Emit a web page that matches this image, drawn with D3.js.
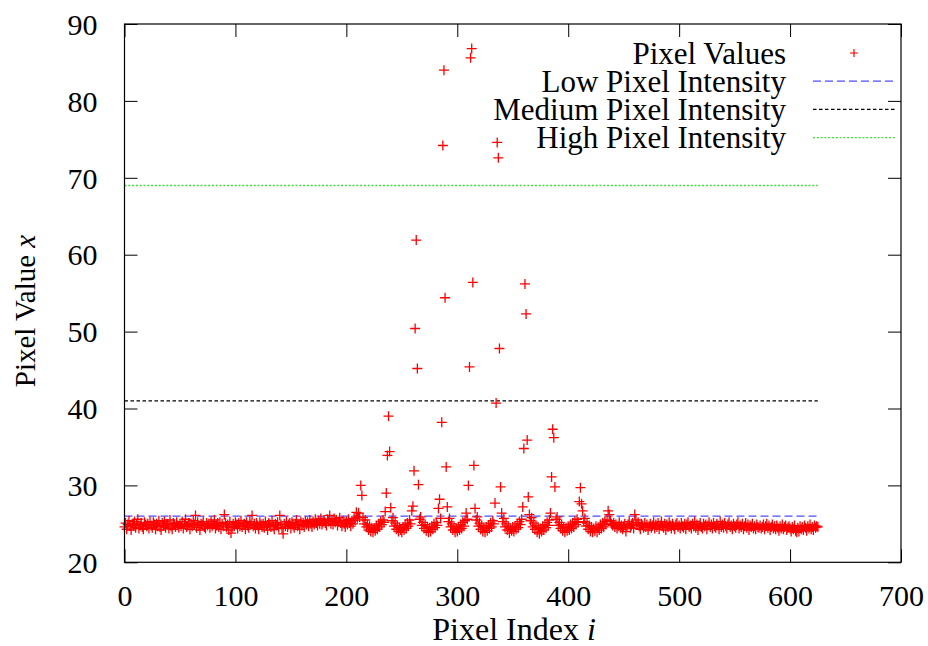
<!DOCTYPE html>
<html>
<head>
<meta charset="utf-8">
<script src="https://cdn.jsdelivr.net/npm/d3@7"></script>
<style>
  body { margin: 0; background: #fff; }
  text { font-family: 'Liberation Serif', 'Times New Roman', serif; fill: #000; }
</style>
</head>
<body>
<div id="chart"></div>
<script>
// pixel value for each index i (0..625)
const pixelValues = [
  24.6, 25.1, 24.3, 24.9, 25.4, 24.7, 24.2, 25.0, 24.8, 25.3, 24.5, 24.9, 25.6, 24.4, 24.8, 25.1, 24.6, 24.3, 25.2, 24.9, 24.7, 25.0, 24.4, 25.3, 24.8,
  24.5, 25.2, 24.9, 24.3, 25.0, 24.7, 25.4, 24.6, 24.2, 25.1, 24.8, 25.3, 24.5, 24.9, 25.0, 24.4, 25.5, 24.7, 24.3, 25.1, 24.9, 24.6, 25.2, 24.8, 24.5,
  25.0, 24.7, 25.3, 24.4, 24.9, 25.6, 24.6, 24.8, 25.1, 24.3, 25.0, 24.7, 25.4, 24.9, 26.1, 24.5, 25.2, 24.8, 24.2, 25.0, 24.9, 25.3, 24.6, 24.4, 25.1,
  24.8, 25.0, 24.5, 25.3, 24.7, 24.9, 25.5, 24.4, 24.8, 25.1, 24.6, 25.2, 24.3, 25.0, 24.7, 26.2, 25.1, 24.6, 24.9, 24.2, 25.3, 23.8, 24.5, 25.0, 24.7,
  25.2, 24.9, 24.4, 25.1, 24.7, 25.4, 24.6, 24.9, 25.0, 24.3, 25.2, 24.8, 24.5, 25.3, 24.9, 26.1, 24.7, 25.0, 24.4, 25.1, 24.8, 24.3, 25.2, 24.9, 24.6,
  25.0, 24.5, 25.3, 24.8, 24.2, 25.1, 24.9, 24.6, 25.4, 24.7, 24.3, 25.0, 24.8, 25.2, 24.5, 26.1, 24.9, 24.4, 23.7, 25.0, 24.7, 25.3, 24.6, 24.9, 25.1,
  24.4, 25.2, 24.8, 24.5, 25.0, 25.5, 24.7, 24.9, 24.3, 25.3, 24.8, 25.1, 24.6, 25.4, 24.9, 25.2, 24.7, 25.5, 25.0, 24.6, 25.3, 24.9, 25.6, 25.1, 24.8,
  25.4, 25.0, 25.7, 24.9, 25.2, 25.5, 25.1, 24.8, 25.6, 25.3, 26.1, 25.0, 25.4, 24.9, 25.7, 25.2, 25.5, 24.8, 25.3, 25.8, 25.1, 24.7, 25.4, 25.0, 24.6,
  25.3, 24.9, 25.6, 25.1, 24.7, 25.4, 25.0, 25.7, 25.5, 26.5, 25.8, 26.4, 25.9, 30.0, 28.7, 25.8, 25.0, 25.5, 24.6, 24.9, 24.2, 24.7, 24.0, 24.5, 23.9,
  24.4, 24.1, 24.8, 24.3, 25.0, 24.6, 25.3, 24.9, 25.5, 25.2, 26.6, 29.0, 33.9, 39.0, 34.4, 27.1, 25.4, 25.8, 24.7, 25.1, 24.3, 24.8, 24.0, 24.5, 24.2,
  23.9, 24.6, 24.2, 24.9, 24.4, 25.1, 24.7, 25.5, 25.0, 26.7, 27.3, 31.9, 50.4, 61.9, 45.2, 30.1, 25.6, 25.9, 24.8, 25.2, 24.4, 24.9, 24.1, 24.6, 23.9,
  24.5, 24.0, 24.7, 24.3, 25.0, 24.5, 25.2, 24.8, 27.0, 28.2, 25.7, 38.2, 74.2, 84.0, 54.4, 32.4, 27.2, 25.3, 25.7, 24.6, 25.0, 24.2, 24.7, 23.9, 24.4,
  24.0, 24.6, 24.2, 24.9, 24.4, 25.2, 24.7, 25.4, 26.4, 25.6, 30.0, 45.4, 85.6, 86.8, 56.4, 32.6, 27.0, 25.5, 25.9, 24.7, 25.1, 24.3, 24.8, 24.0, 24.5,
  23.9, 24.6, 24.1, 24.8, 24.4, 25.1, 24.6, 25.4, 25.0, 27.7, 40.7, 74.6, 72.6, 47.8, 29.8, 26.4, 25.3, 25.7, 24.6, 25.0, 24.2, 24.7, 23.8, 24.4, 24.1,
  24.6, 24.0, 24.7, 24.3, 25.0, 24.5, 25.3, 24.9, 25.6, 27.2, 34.8, 56.2, 52.3, 35.9, 28.5, 26.2, 25.4, 25.8, 24.6, 25.1, 24.3, 24.8, 23.9, 24.5, 23.7,
  24.4, 24.0, 24.7, 24.2, 24.9, 24.5, 25.2, 24.8, 25.5, 26.4, 31.1, 37.3, 36.2, 29.8, 25.6, 25.9, 24.8, 25.2, 24.4, 24.9, 24.1, 24.6, 23.9, 24.5, 24.1,
  24.7, 24.2, 24.9, 24.4, 25.1, 24.6, 25.3, 24.9, 25.6, 25.2, 27.9, 29.7, 27.6, 26.7, 25.3, 25.7, 24.7, 25.1, 24.3, 24.8, 24.0, 24.6, 23.9, 24.4, 24.1,
  24.7, 23.9, 24.5, 24.2, 24.9, 24.4, 25.1, 24.6, 25.3, 24.9, 25.5, 26.7, 26.2, 25.4, 25.0, 24.8, 25.1, 24.6, 24.9, 24.4, 24.7, 25.2, 24.5, 24.8, 24.3,
  24.7, 25.0, 24.0, 24.6, 24.9, 25.3, 24.5, 24.8, 25.1, 24.4, 26.2, 25.5, 24.9, 25.2, 24.7, 24.3, 25.0, 24.8, 24.5, 25.1, 24.6, 24.9, 24.2, 24.7, 25.0,
  24.5, 24.8, 25.2, 24.4, 24.9, 24.6, 25.1, 24.3, 24.8, 25.3, 24.7, 24.5, 25.0, 24.2, 24.9, 24.6, 25.2, 24.8, 24.4, 25.0, 24.7, 24.3, 24.9, 25.1, 24.6,
  24.8, 24.4, 25.1, 24.7, 24.5, 25.0, 24.3, 24.9, 25.2, 24.6, 24.8, 24.4, 25.0, 24.7, 25.3, 24.5, 24.9, 24.2, 24.8, 25.1, 24.6, 24.4, 25.0, 24.7, 24.9,
  24.3, 24.8, 25.2, 24.6, 24.9, 24.4, 25.1, 24.7, 24.5, 25.0, 24.8, 24.3, 25.3, 24.6, 24.9, 24.5, 25.1, 24.7, 24.4, 24.9, 25.2, 24.6, 24.8, 24.3, 25.0,
  24.7, 24.5, 24.9, 25.2, 24.4, 24.8, 24.6, 25.0, 24.3, 24.7, 25.1, 24.5, 24.9, 24.2, 24.8, 24.6, 25.0, 24.4, 24.7, 24.3, 24.9, 24.6, 24.5, 24.8, 24.4,
  24.6, 24.9, 24.3, 24.7, 25.0, 24.5, 24.8, 24.2, 24.6, 24.9, 24.4, 24.7, 24.3, 24.8, 24.5, 24.1, 24.7, 24.4, 24.9, 24.3, 24.6, 24.8, 24.2, 24.5, 24.7,
  24.4, 24.0, 24.6, 24.3, 24.8, 24.1, 23.9, 24.5, 24.0, 24.7, 24.3, 24.6, 24.2, 24.8, 24.5, 24.1, 24.7, 24.4, 24.9, 24.3, 24.6, 24.2, 24.8, 24.5, 24.7,
  24.6
]

const thresholdNames = ['Low Pixel Intensity', 'Medium Pixel Intensity', 'High Pixel Intensity']
const thresholdValues = [26, 41, 69]
const thresholdColors = ['#4d4dff', '#000000', '#3ddc3d']
const thresholdDashes = ['8,4', '3.5,2.5', '2,1.8']

const xTicks = [0, 100, 200, 300, 400, 500, 600, 700]
const yTicks = [20, 30, 40, 50, 60, 70, 80, 90]

const width = 928
const height = 646
const tickFont = 30
const legendFont = 31
const tickLen = 13

const svg = d3.select('#chart').append('svg')
  .attr('width', width)
  .attr('height', height)

const x = d3.scaleLinear().domain([0, 700]).range([124.5, 901])
const y = d3.scaleLinear().domain([20, 90]).range([562.3, 24])

const plot = svg.append('g')

// threshold lines over the data range
plot.selectAll('line.threshold')
  .data(thresholdValues)
  .enter()
  .append('line')
  .attr('class', 'threshold')
  .attr('x1', x(0))
  .attr('x2', x(pixelValues.length - 1))
  .attr('y1', d => y(d))
  .attr('y2', d => y(d))
  .style('stroke', (d, i) => thresholdColors[i])
  .style('stroke-width', 1.3)
  .style('stroke-dasharray', (d, i) => thresholdDashes[i])

const cross = 'M-5,0H5M0,-5V5'

plot.selectAll('path.pt')
  .data(pixelValues)
  .enter()
  .append('path')
  .attr('class', 'pt')
  .attr('d', cross)
  .attr('transform', (d, i) => `translate(${x(i)},${y(d)})`)
  .style('stroke', '#ff0000')
  .style('stroke-width', 1.3)
  .style('fill', 'none')

// axes, ticks pointing inward on all four sides
const styleAxis = (g) => {
  g.selectAll('path.domain').remove()
  g.selectAll('line').style('stroke', '#000').style('stroke-width', 1)
  g.selectAll('text')
    .style('font-size', tickFont + 'px')
    .style('font-family', "'Liberation Serif', serif")
}

svg.append('g')
  .attr('transform', `translate(0,${y(20)})`)
  .call(d3.axisBottom(x).tickValues(xTicks).tickSize(-tickLen).tickPadding(22).tickFormat(d3.format('d')))
  .call(styleAxis)

svg.append('g')
  .attr('transform', `translate(0,${y(90)})`)
  .call(d3.axisTop(x).tickValues(xTicks).tickSize(-tickLen).tickFormat(''))
  .call(styleAxis)

svg.append('g')
  .attr('transform', `translate(${x(0)},0)`)
  .call(d3.axisLeft(y).tickValues(yTicks).tickSize(-tickLen).tickFormat(d3.format('d')))
  .call(styleAxis)
  .call(g => g.selectAll('text')
    .attr('x', -27)
    .attr('dy', '0.34em'))

svg.append('g')
  .attr('transform', `translate(${x(700)},0)`)
  .call(d3.axisRight(y).tickValues(yTicks).tickSize(-tickLen).tickFormat(''))
  .call(styleAxis)

svg.append('rect')
  .attr('x', x(0))
  .attr('y', y(90))
  .attr('width', x(700) - x(0))
  .attr('height', y(20) - y(90))
  .style('fill', 'none')
  .style('stroke', '#000')
  .style('stroke-width', 1.2)

// axis titles
const xTitle = svg.append('text')
  .attr('transform', 'translate(514,640)')
  .attr('text-anchor', 'middle')
  .style('font-size', '32px')
xTitle.append('tspan').text('Pixel Index ')
xTitle.append('tspan').style('font-style', 'italic').text('i')

const yTitle = svg.append('text')
  .attr('transform', 'translate(35,311) rotate(-90)')
  .attr('text-anchor', 'middle')
  .style('font-size', '29px')
yTitle.append('tspan').text('Pixel Value ')
yTitle.append('tspan').style('font-style', 'italic').text('x')

// legend
const legendNames = ['Pixel Values'].concat(thresholdNames)
const legendTop = 53
const legendStep = 28.2

const legend = svg.append('g')

legend.selectAll('text')
  .data(legendNames)
  .enter()
  .append('text')
  .attr('transform', (d, i) => `translate(786,${legendTop + i * legendStep})`)
  .attr('dy', '0.34em')
  .attr('text-anchor', 'end')
  .style('font-size', legendFont + 'px')
  .text(d => d)

legend.append('path')
  .attr('d', 'M-4,0H4M0,-4V4')
  .attr('transform', `translate(854,${legendTop})`)
  .style('stroke', '#ff0000')
  .style('stroke-width', 1.2)

legend.selectAll('line')
  .data(thresholdValues)
  .enter()
  .append('line')
  .attr('x1', 813)
  .attr('x2', 895)
  .attr('y1', (d, i) => legendTop + (i + 1) * legendStep)
  .attr('y2', (d, i) => legendTop + (i + 1) * legendStep)
  .style('stroke', (d, i) => thresholdColors[i])
  .style('stroke-width', 1.3)
  .style('stroke-dasharray', (d, i) => thresholdDashes[i])
</script>
</body>
</html>
